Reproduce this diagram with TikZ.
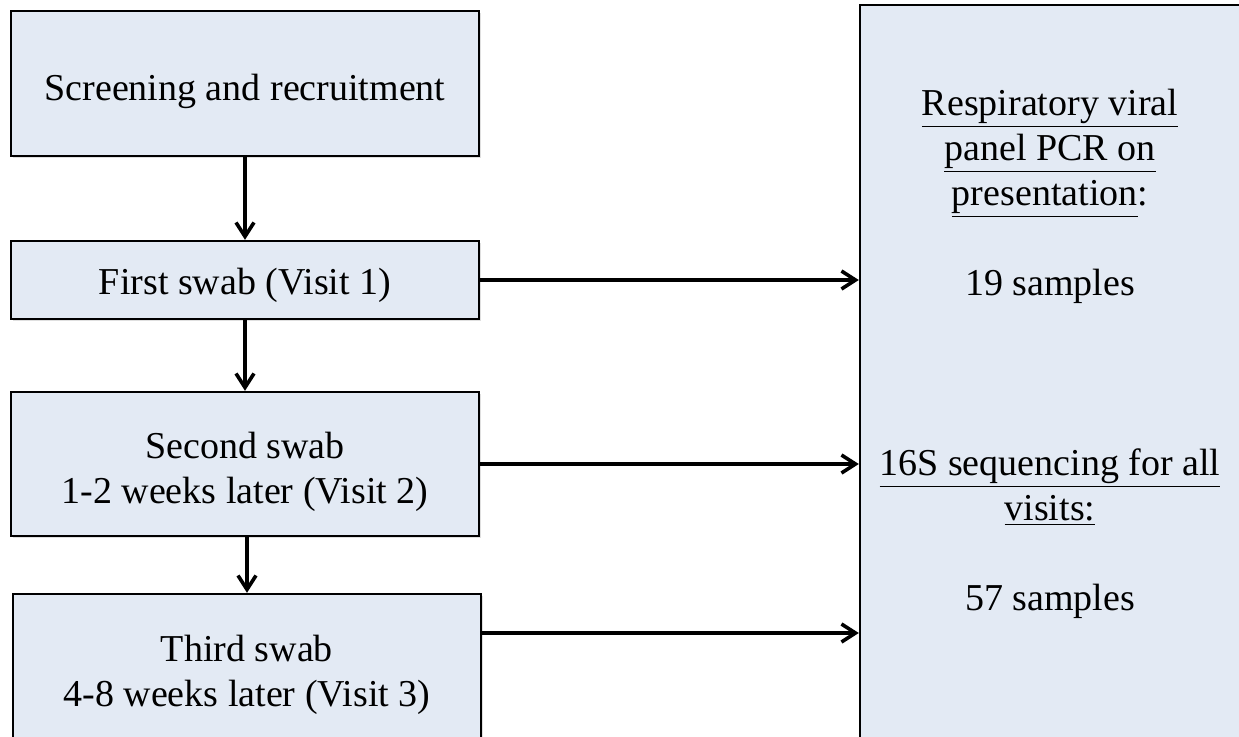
\documentclass[tikz,border=0pt]{standalone}
\usepackage{fontspec}
\setmainfont{Liberation Serif}
\usetikzlibrary{arrows.meta,shadows}
\definecolor{boxfill}{RGB}{227,234,244}
\tikzset{
  stepbox/.style={draw=black, line width=1.2pt, fill=boxfill,
    minimum width=234pt, inner sep=0pt,
    drop shadow={shadow xshift=1pt, shadow yshift=-1.2pt, opacity=0.25}},
  steptext/.style={align=center, inner sep=0pt, yshift=-4pt},
  flow/.style={line width=1.8pt, -{Straight Barb[length=7pt, width=9pt, line width=1.8pt]}}
}
\begin{document}
\begin{tikzpicture}[x=0.5pt, y=-0.5pt, font=\fontsize{19}{22.5}\selectfont, line cap=round]
	\useasboundingbox (0,0) rectangle (1239,736);
	\clip (0,0) rectangle (1239,736);
	% left column
	\node[stepbox, minimum height=72.5pt] (b1) at (245,83.5) {};
	\node[stepbox, minimum height=39pt] (b2) at (245,280) {};
	\node[stepbox, minimum height=72pt] (b3) at (245,464) {};
	\node[stepbox, minimum height=73pt] (b4) at (247,667) {};
	\node[steptext] (t1) at (b1) {Screening and recruitment};
	\node[steptext, yshift=1.5pt] (t2) at (b2) {First swab (Visit 1)};
	\node[steptext] (t3) at (b3) {Second swab\\1-2 weeks later (Visit 2)};
	\node[steptext] (t4) at (b4) {Third swab\\4-8 weeks later (Visit 3)};
	% right column
	\node[stepbox, minimum width=191pt, minimum height=370pt] (res) at (1051,375) {};
	\node[anchor=north, align=center, inner sep=0pt] (restxt) at (1050,89)
		{\underline{Respiratory viral}\\\underline{panel PCR on}\\\underline{presentation}:\\[22.5pt]
		 19 samples\\[67.5pt]
		 \underline{16S sequencing for all}\\\underline{visits:}\\[22.5pt]
		 57 samples};
	\coordinate (lvl3) at (0,633);
	\draw[flow] (b1.south) -- (b2.north);
	\draw[flow] (b2.south) -- (b3.north);
	\draw[flow] ([xshift=1pt]b3.south) -- ([xshift=1pt]b3.south |- b4.north);
	\draw[flow] (b2.east) -- (b2.east -| res.west);
	\draw[flow] (b3.east) -- (b3.east -| res.west);
	\draw[flow] (b4.east |- lvl3) -- (res.west |- lvl3);
\end{tikzpicture}
\end{document}
